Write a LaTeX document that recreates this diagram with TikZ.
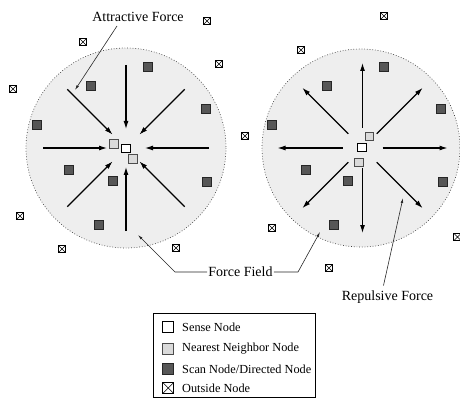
\documentclass[tikz,border=0pt]{standalone}
\usepackage{fontspec}
\setmainfont{Liberation Serif}
\usetikzlibrary{arrows.meta}
\definecolor{fieldgray}{HTML}{EEEEEE}
\definecolor{neargray}{HTML}{DADADA}
\definecolor{scangray}{HTML}{575757}
\tikzset{
  field/.style={fill=fieldgray,draw=black!75,dotted,line width=0.7pt},
  sensenode/.style={draw=black,fill=white,line width=0.9pt,minimum size=8.5pt,inner sep=0pt},
  nearnode/.style={draw=black!70,fill=neargray,line width=0.9pt,minimum size=8.5pt,inner sep=0pt},
  scannode/.style={draw=black!85,fill=scangray,line width=0.9pt,minimum size=8.5pt,inner sep=0pt},
  outnode/.style={draw=black,fill=white,line width=0.7pt,minimum size=7.5pt,inner sep=0pt,
    path picture={\draw[line width=0.6pt] (path picture bounding box.south west) -- (path picture bounding box.north east)
      (path picture bounding box.north west) -- (path picture bounding box.south east);}},
  force/.style={line width=1.1pt,-{Latex[length=8pt,width=5pt]}},
  pointer/.style={line width=0.6pt,black!85,-{Latex[length=5pt,width=2.6pt]}},
  caption/.style={font=\fontsize{14}{16}\selectfont,inner sep=1pt},
  legendtext/.style={font=\fontsize{12.3}{14}\selectfont,anchor=west,inner sep=0pt},
}
\begin{document}
\begin{tikzpicture}[x=1pt,y=-1pt]
\useasboundingbox (0,0) rectangle (460,398);

% force fields
\fill[fieldgray] (126,148) circle (100);
\draw[field] (126,148) circle (100);
\fill[fieldgray] (361,148) circle (99);
\draw[field] (361,148) circle (99);

\coordinate (LC) at (126,148);
\coordinate (RC) at (362.5,148);

% attractive field: arrows pointing inwards
\foreach \a in {0,45,...,315}
  \draw[force] ([shift={(\a:83)}]LC) -- ([shift={(\a:19)}]LC);

% repulsive field: arrows pointing outwards
\foreach \a in {0,45,...,315}
  \draw[force] ([shift={(\a:20)}]RC) -- ([shift={(\a:85)}]RC);

% left field nodes
\node[sensenode] (ls) at (125.7,148.3) {};
\node[nearnode] (ln1) at (114,144) {};
\node[nearnode] (ln2) at (133,159) {};
\node[scannode] (lk1) at (148,67) {};
\node[scannode] (lk2) at (91,86) {};
\node[scannode] (lk3) at (206,109) {};
\node[scannode] (lk4) at (37,125) {};
\node[scannode] (lk5) at (69,170) {};
\node[scannode] (lk6) at (113,181) {};
\node[scannode] (lk7) at (207,182) {};
\node[scannode] (lk8) at (99,225) {};
\node[outnode] (lo1) at (207,21) {};
\node[outnode] (lo2) at (83,42) {};
\node[outnode] (lo3) at (219,64) {};
\node[outnode] (lo4) at (13,89) {};
\node[outnode] (lo5) at (20,216) {};
\node[outnode] (lo6) at (62,249) {};
\node[outnode] (lo7) at (176,248) {};

% right field nodes
\node[sensenode] (rs) at (361.7,147.7) {};
\node[nearnode] (rn1) at (369.3,136.7) {};
\node[nearnode] (rn2) at (358.7,162.3) {};
\node[scannode] (rk1) at (384,67) {};
\node[scannode] (rk2) at (327,86) {};
\node[scannode] (rk3) at (441,109) {};
\node[scannode] (rk4) at (272,125) {};
\node[scannode] (rk5) at (306,170) {};
\node[scannode] (rk6) at (348,181) {};
\node[scannode] (rk7) at (443,182) {};
\node[scannode] (rk8) at (334,225) {};
\node[outnode] (ro1) at (384,16) {};
\node[outnode] (ro2) at (301,50) {};
\node[outnode] (ro3) at (245,136) {};
\node[outnode] (ro4) at (272,228) {};
\node[outnode] (ro5) at (329,268) {};
\node[outnode] (ro6) at (457.5,237) {};

% captions with pointers
\node[caption] (attr) at (138,17) {Attractive Force};
\coordinate (attrtip) at (75,90);
\draw[pointer] (117,26) -- (attrtip);

\node[caption] (ff) at (240.5,272) {Force Field};
\coordinate (ffl) at (138,235);
\coordinate (ffr) at (320,232);
\draw[pointer] (ff.west) -- (175,272) -- (ffl);
\draw[pointer] (ff.east) -- (298,272) -- (ffr);

\node[caption] (rep) at (387.5,297) {Repulsive Force};
\coordinate (reptip) at (403,198);
\draw[pointer] (rep.north) ++(-4,-4) -- (reptip);

% legend
\node[draw=black,line width=0.8pt,minimum width=162pt,minimum height=84pt,inner sep=0pt,anchor=north west] (legend) at (153,313) {};
\node[sensenode,minimum size=11pt] (k1) at (168.3,327) {};
\node[nearnode,minimum size=11pt] (k2) at (168.3,349) {};
\node[scannode,minimum size=11pt] (k3) at (168.3,369) {};
\node[outnode,minimum size=11pt] (k4) at (168.3,388) {};
\node[legendtext] (t1) at (182,327) {Sense Node};
\node[legendtext] (t2) at (182,349) {Nearest Neighbor Node};
\node[legendtext] (t3) at (182,369) {Scan Node/Directed Node};
\node[legendtext] (t4) at (182,388) {Outside Node};
\end{tikzpicture}
\end{document}
